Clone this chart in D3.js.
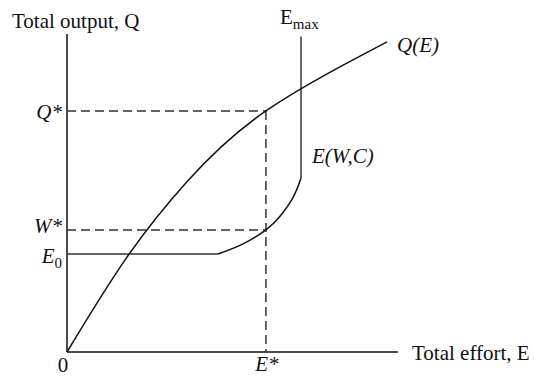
<!DOCTYPE html>
<html>
<head>
<meta charset="utf-8">
<script src="https://cdn.jsdelivr.net/npm/d3@7"></script>
<style>
  html, body { margin: 0; padding: 0; background: #fff; }
  text { font-family: "Liberation Serif", "Times New Roman", serif; fill: #111; }
  .it { font-style: italic; }
</style>
</head>
<body>
<div id="chart"></div>
<script>
// Effort units on x, output units on y (0..100 on both axes)
const outputCurve = [
  { e: 0, q: 0 }, { e: 17.5, q: 28.9 }, { e: 36.3, q: 53.6 },
  { e: 60.1, q: 75.8 }, { e: 96.7, q: 97.5 }
];
// E(W,C): flat at E0, rising arc, then vertical at Emax
const effortFlat = [{ e: 0, q: 30.8 }, { e: 45.6, q: 30.8 }];
const effortArc = [
  { e: 45.6, q: 30.8 }, { e: 53.2, q: 34.0 }, { e: 60.1, q: 38.4 },
  { e: 64.3, q: 42.6 }, { e: 68.3, q: 48.6 }, { e: 70.7, q: 54.7 }
];
const effortCap = [{ e: 70.7, q: 54.7 }, { e: 70.7, q: 99.2 }];
const eStar = 60.1, qStar = 75.8, wStar = 38.4, e0 = 30.8;

const W = 541, H = 377;
const svg = d3.select("#chart").append("svg")
  .attr("width", W).attr("height", H)
  .attr("viewBox", `0 0 ${W} ${H}`)
  .style("display", "block");

const x = d3.scaleLinear().domain([0, 100]).range([67, 398]);
const y = d3.scaleLinear().domain([0, 100]).range([352, 34]);

// axes drawn as bare lines, no ticks
svg.append("line").attr("x1", x(0)).attr("x2", x(0)).attr("y1", y(0)).attr("y2", y(100))
  .attr("stroke", "#111").attr("stroke-width", 1.5);
svg.append("line").attr("x1", x(0)).attr("x2", x(100)).attr("y1", y(0)).attr("y2", y(0))
  .attr("stroke", "#111").attr("stroke-width", 1.5);

// guides to the equilibrium
const guide = (x1, y1, x2, y2) => svg.append("line")
  .attr("x1", x1).attr("y1", y1).attr("x2", x2).attr("y2", y2)
  .attr("stroke", "#333").attr("stroke-width", 1.5).attr("stroke-dasharray", "9,5");
guide(x(0), y(qStar), x(eStar), y(qStar));
guide(x(0), y(wStar), x(eStar), y(wStar));
guide(x(eStar), y(qStar), x(eStar), y(0));

const straight = d3.line().x(d => x(d.e)).y(d => y(d.q));
const smooth = d3.line().x(d => x(d.e)).y(d => y(d.q)).curve(d3.curveNatural);

svg.append("path").datum(effortFlat).attr("d", straight)
  .attr("fill", "none").attr("stroke", "#333").attr("stroke-width", 1.6);
svg.append("path").datum(effortArc).attr("d", smooth)
  .attr("fill", "none").attr("stroke", "#111").attr("stroke-width", 1.5);
svg.append("path").datum(effortCap).attr("d", straight)
  .attr("fill", "none").attr("stroke", "#444").attr("stroke-width", 1.6);
svg.append("path").datum(outputCurve).attr("d", smooth)
  .attr("fill", "none").attr("stroke", "#111").attr("stroke-width", 1.5);

// labels
const FS = 21;
const label = (tx, ty, str, cls, anchor) => svg.append("text")
  .attr("x", tx).attr("y", ty).attr("class", cls || null)
  .attr("text-anchor", anchor || "start").style("font-size", FS + "px").text(str);

label(12, 28, "Total output, Q");
label(412, 360, "Total effort, E");
label(63, 372, "0", null, "middle");
label(x(eStar) + 1, 371, "E*", "it", "middle");
label(62, y(qStar) + 8, "Q*", "it", "end");
label(62, y(wStar) + 3, "W*", "it", "end");
label(397, 52, "Q(E)", "it");
label(312, 163, "E(W,C)", "it");

const e0t = label(62, y(e0) + 9, "E", "it", "end");
e0t.append("tspan").attr("dy", 5).style("font-size", "15px").style("font-style", "normal").text("0");

const emax = label(280, 24, "E");
emax.append("tspan").attr("dy", 5).style("font-size", "15px").text("max");
</script>
</body>
</html>
